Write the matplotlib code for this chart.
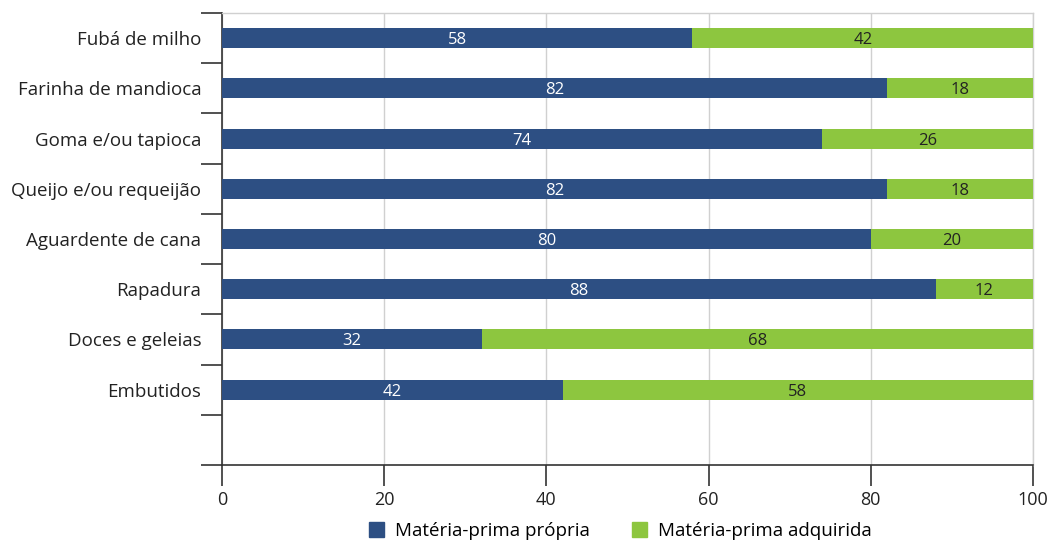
import numpy as np
import matplotlib.pyplot as plt
from matplotlib.patches import Patch

plt.rcParams['font.family'] = ['Open Sans', 'DejaVu Sans']

categories = ['Fubá de milho', 'Farinha de mandioca', 'Goma e/ou tapioca',
              'Queijo e/ou requeijão', 'Aguardente de cana', 'Rapadura',
              'Doces e geleias', 'Embutidos']
propria = [58, 82, 74, 82, 80, 88, 32, 42]
adquirida = [42, 18, 26, 18, 20, 12, 68, 58]
series_names = ['Matéria-prima própria', 'Matéria-prima adquirida']

blue = '#2d4f83'
green = '#8dc63f'

fig = plt.figure(figsize=(10.48, 5.45), dpi=100)
ax = fig.add_axes([222 / 1048, 1 - 465 / 545, (1033 - 222) / 1048, (465 - 13) / 545])

# 8 categories plus one empty slot at the bottom
y = np.arange(len(categories)) + 0.5
ax.barh(y, propria, height=0.4, color=blue, zorder=3)
ax.barh(y, adquirida, left=propria, height=0.4, color=green, zorder=3)

for yi, p, a in zip(y, propria, adquirida):
    ax.text(p / 2, yi + 0.04, str(p), ha='center', va='center', color='white', fontsize=12, zorder=4)
    ax.text(p + a / 2, yi + 0.04, str(a), ha='center', va='center', color='#222222', fontsize=12, zorder=4)

ax.set_ylim(len(categories) + 1, 0)
ax.set_xlim(0, 100)

ax.set_yticks(np.arange(len(categories) + 2))
ax.set_yticklabels([])
ax.set_yticks(y, minor=True)
ax.set_yticklabels(categories, minor=True, fontsize=13.5, color='#222222')
ax.tick_params(axis='y', which='major', length=15, width=1.2, color='#333333')
ax.tick_params(axis='y', which='minor', length=0, pad=15)

ax.set_xticks([0, 20, 40, 60, 80, 100])
ax.tick_params(axis='x', length=15, width=1.2, color='#333333', labelsize=13,
               labelcolor='#222222', pad=4)

ax.grid(axis='x', color='#d0d0d0', linewidth=1, zorder=0)
for s in ['left', 'bottom']:
    ax.spines[s].set_color('#333333')
    ax.spines[s].set_linewidth(1.2)
for s in ['top', 'right']:
    ax.spines[s].set_color('#d0d0d0')
    ax.spines[s].set_linewidth(1)

handles = [Patch(color=blue), Patch(color=green)]
fig.legend(handles, series_names, loc='lower center', ncol=2, frameon=False,
           fontsize=13.5, bbox_to_anchor=(0.592, -0.022), handlelength=0.8,
           handleheight=0.8, handletextpad=0.6, columnspacing=2.2)

fig.savefig('out.png', dpi=100)
